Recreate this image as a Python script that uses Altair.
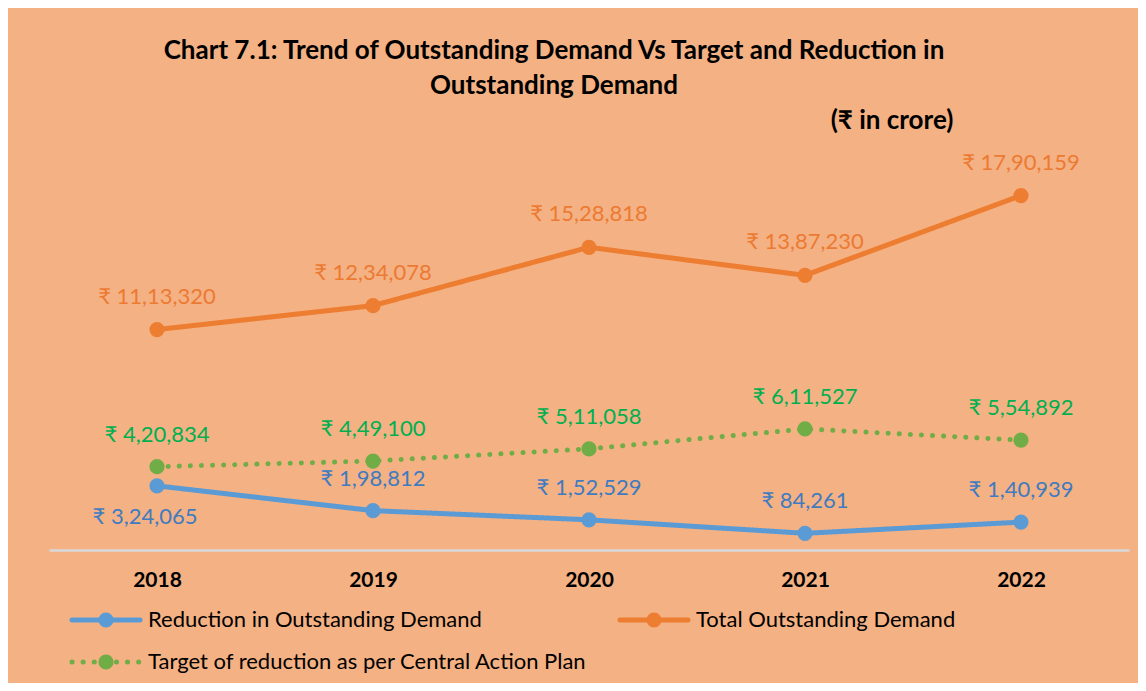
import altair as alt
import pandas as pd

years = ["2018", "2019", "2020", "2021", "2022"]
reduction = [324065, 198812, 152529, 84261, 140939]
total = [1113320, 1234078, 1528818, 1387230, 1790159]
target = [420834, 449100, 511058, 611527, 554892]

s_red = "Reduction in Outstanding Demand"
s_tot = "Total Outstanding Demand"
s_tgt = "Target of reduction as per Central Action Plan"
series_names = [s_red, s_tot, s_tgt]
line_colors = ["#5B9BD5", "#ED7D31", "#70AD47"]
label_colors = {s_red: "#3F7BC0", s_tot: "#EC7A32", s_tgt: "#00B050"}
DOT = [0.1, 11]

def inr(v):
    s = str(int(v))
    if len(s) > 3:
        head, tail = s[:-3], s[-3:]
        parts = []
        while len(head) > 2:
            parts.insert(0, head[-2:])
            head = head[:-2]
        if head:
            parts.insert(0, head)
        s = ",".join(parts) + "," + tail
    return "\u20b9 " + s

rows = []
for name, vals in [(s_red, reduction), (s_tot, total), (s_tgt, target)]:
    for y, v in zip(years, vals):
        rows.append({"year": y, "value": v, "series": name, "label": inr(v)})
df = pd.DataFrame(rows)

FONT = "Lato"
LBL = 22

base = alt.Chart(df)
x = alt.X("year:N", sort=years, scale=alt.Scale(type="point", padding=0.5),
          axis=alt.Axis(title=None, labelFont=FONT, labelFontSize=21, labelFontWeight="bold",
                        labelColor="#000000", labelPadding=19, ticks=False, domain=True,
                        domainColor="#D9D9D9", domainWidth=2.5, labelAngle=0))
y = alt.Y("value:Q", scale=alt.Scale(domain=[0, 2000000], nice=False, zero=True), axis=None)

cscale = alt.Scale(domain=series_names, range=line_colors)
color = alt.Color("series:N", scale=cscale, legend=None)
dash = alt.StrokeDash("series:N", scale=alt.Scale(domain=series_names,
                                                   range=[[1, 0], [1, 0], DOT]),
                      legend=None)

lines = base.mark_line(strokeWidth=5, strokeCap="round").encode(
    x=x, y=y, color=color, strokeDash=dash)
points = base.mark_circle(size=230, opacity=1).encode(x=x, y=y, color=color)

def labels(name, dy, filt=None, dx=0):
    c = base.transform_filter(alt.datum.series == name)
    if filt is not None:
        c = c.transform_filter(filt)
    return c.mark_text(font=FONT, fontSize=LBL, dy=dy, dx=dx, color=label_colors[name]).encode(
        x=x, y=y, text="label:N")

lab_tot = labels(s_tot, -33)
lab_tgt = labels(s_tgt, -32)
lab_red = labels(s_red, -32, alt.datum.year != "2018")
lab_red_first = labels(s_red, 31, alt.datum.year == "2018", dx=-12)

def text_at(t, xp, yp, size, weight="normal", align="center"):
    return alt.Chart(pd.DataFrame({"t": [t]})).mark_text(
        font=FONT, fontSize=size, fontWeight=weight, color="#000000", align=align,
        baseline="middle").encode(x=alt.value(xp), y=alt.value(yp), text="t:N")

title1 = text_at("Chart 7.1: Trend of Outstanding Demand Vs Target and Reduction in", 505, -103, 26, "bold")
title2 = text_at("Outstanding Demand", 505, -68, 26, "bold")
subtitle = text_at("(\u20b9 in crore)", 843, -33, 26, "bold")

one = pd.DataFrame({"k": [0]})

def legend_entry(name, x0, yp):
    i = series_names.index(name)
    col = line_colors[i]
    rule_kw = dict(strokeWidth=5, strokeCap="round", color=col)
    if name == s_tgt:
        rule_kw["strokeDash"] = DOT
    rule = alt.Chart(one).mark_rule(**rule_kw).encode(
        x=alt.value(x0), x2=alt.value(x0 + 68), y=alt.value(yp))
    dot = alt.Chart(one).mark_circle(size=230, opacity=1, color=col).encode(
        x=alt.value(x0 + 34), y=alt.value(yp))
    txt = alt.Chart(pd.DataFrame({"t": [name]})).mark_text(
        font=FONT, fontSize=LBL, color="#000000", align="left", baseline="middle").encode(
        x=alt.value(x0 + 76), y=alt.value(yp), text="t:N")
    return [rule, dot, txt]

leg = (legend_entry(s_red, 23, 466) + legend_entry(s_tot, 571, 466)
       + legend_entry(s_tgt, 23, 508))

chart = alt.layer(lines, points, lab_tot, lab_tgt, lab_red, lab_red_first,
                  title1, title2, subtitle, *leg).properties(
    width=1080, height=396,
    autosize=alt.AutoSizeParams(type="none"),
    padding={"left": 41, "top": 146, "right": 9, "bottom": 133},
    background="#F4B183",
).configure_view(stroke=None).configure_axis(grid=False)

chart.save("out.html", embed_options={"renderer": "svg", "actions": False})
